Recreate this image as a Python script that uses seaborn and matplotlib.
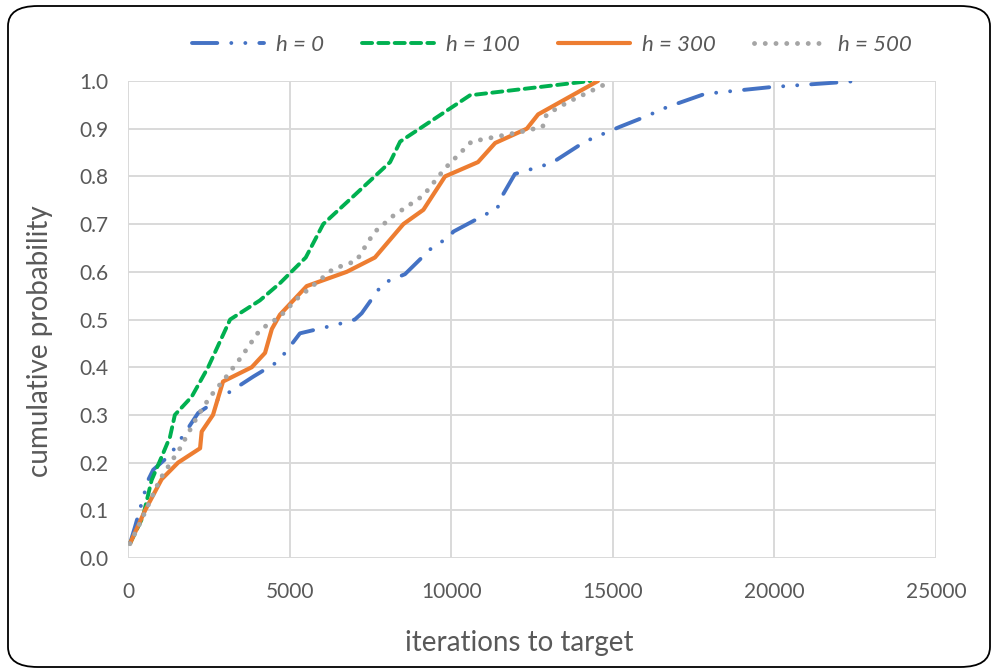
import matplotlib
matplotlib.use("Agg")
import matplotlib.pyplot as plt
from matplotlib.patches import FancyBboxPatch
import seaborn as sns
import pandas as pd

# data
h0_x = [60, 220, 620, 780, 1300, 1760, 2170, 2850, 3870, 4550, 4860, 5320, 6500, 7020, 7230, 7890,
        8570, 9440, 9960, 10060, 11140, 11410, 11560, 11970, 13110, 14140, 15220, 16000, 16670,
        17850, 19860, 22590]
h0_p = [0.03, 0.066, 0.163, 0.185, 0.216, 0.262, 0.304, 0.335, 0.38, 0.408, 0.43, 0.471, 0.49, 0.50,
        0.513, 0.576, 0.595, 0.653, 0.673, 0.684, 0.723, 0.73, 0.757, 0.805, 0.828, 0.873, 0.904,
        0.925, 0.945, 0.973, 0.987, 1.0]

h100_x = [60, 460, 730, 1090, 1300, 1450, 1970, 2480, 3160, 4080, 4700, 5500, 6040, 7000, 8110, 8420,
          10580, 14300]
h100_p = [0.03, 0.086, 0.163, 0.22, 0.254, 0.30, 0.338, 0.40, 0.50, 0.54, 0.576, 0.63, 0.70, 0.76,
          0.83, 0.873, 0.97, 1.0]

h300_x = [60, 530, 1040, 1550, 2230, 2280, 2630, 2940, 3830, 4240, 4450, 4700, 5530, 6770, 7640, 8520,
          9140, 9810, 10830, 11360, 12340, 12690, 14540]
h300_p = [0.03, 0.10, 0.165, 0.20, 0.23, 0.265, 0.30, 0.37, 0.40, 0.43, 0.48, 0.51, 0.57, 0.60, 0.63,
          0.70, 0.73, 0.80, 0.83, 0.87, 0.90, 0.93, 1.0]

h500_x = [60, 370, 990, 1610, 2140, 2540, 3040, 3490, 4080, 4700, 5220, 6350, 7070, 7430, 7640, 8200,
          9140, 9810, 10630, 12130, 12830, 12950, 13620, 14970]
h500_p = [0.03, 0.073, 0.165, 0.23, 0.296, 0.338, 0.38, 0.42, 0.478, 0.506, 0.543, 0.606, 0.623, 0.663,
          0.684, 0.717, 0.76, 0.817, 0.873, 0.893, 0.904, 0.93, 0.956, 1.0]

labels = ["h = 0", "h = 100", "h = 300", "h = 500"]
colors = ["#4472C4", "#00B050", "#ED7D31", "#A5A5A5"]

sns.set_style("whitegrid")
plt.rcParams["font.family"] = ["Lato", "DejaVu Sans"]
text_col = "#595959"

fig = plt.figure(figsize=(9.94, 6.68), dpi=100)
ax = fig.add_axes([128 / 994, 1 - 558 / 668, 808 / 994, 477 / 668])

series = [(h0_x, h0_p), (h100_x, h100_p), (h300_x, h300_p), (h500_x, h500_p)]
styles = [
    dict(linestyle=(0, (6.5, 3.6, 0.01, 3.6, 0.01, 3.6)), dash_capstyle="round", linewidth=2.8),
    dict(linestyle=(0, (2.6, 1.6)), dash_capstyle="round", linewidth=2.8),
    dict(linestyle="-", solid_capstyle="round", linewidth=3.0),
    dict(linestyle=(0, (0.01, 2.2)), dash_capstyle="round", linewidth=3.5),
]

for (xs, ps), lab, col, st in zip(series, labels, colors, styles):
    df = pd.DataFrame({"iterations": xs, "prob": ps})
    sns.lineplot(data=df, x="iterations", y="prob", ax=ax, color=col, label=lab,
                 estimator=None, **st)

ax.set_xlim(0, 25000)
ax.set_ylim(0, 1.0)
ax.set_xticks(range(0, 25001, 5000))
ax.set_yticks([i / 10 for i in range(11)])
ax.set_yticklabels([f"{i / 10:.1f}" for i in range(11)])
ax.tick_params(axis="both", length=0, labelsize=15, labelcolor=text_col)
ax.tick_params(axis="x", pad=17)
ax.tick_params(axis="y", pad=14)
ax.grid(True, color="#d9d9d9", linewidth=1.4)
for s in ax.spines.values():
    s.set_visible(False)
ax.set_xlabel("")
ax.set_ylabel("")

fig.text(519 / 994, 1 - 643 / 668, "iterations to target", ha="center", va="center",
         fontsize=20, color=text_col)
fig.text(40 / 994, 1 - 341 / 668, "cumulative probability", ha="center", va="center",
         rotation=90, fontsize=20, color=text_col)

leg = ax.legend(loc="center", bbox_to_anchor=(552 / 994, 1 - 45 / 668),
                bbox_transform=fig.transFigure, ncol=4, frameon=False,
                handlelength=3.25, columnspacing=1.7, handletextpad=0.55,
                prop={"style": "italic", "size": 16})
for t in leg.get_texts():
    t.set_color(text_col)

border = FancyBboxPatch((8 / 994, 1 / 668), 982 / 994, 661 / 668,
                        boxstyle="round,pad=0,rounding_size=0.03",
                        transform=fig.transFigure, fill=False,
                        edgecolor="black", linewidth=1.3)
fig.patches.append(border)

fig.savefig("out.png", dpi=100)
